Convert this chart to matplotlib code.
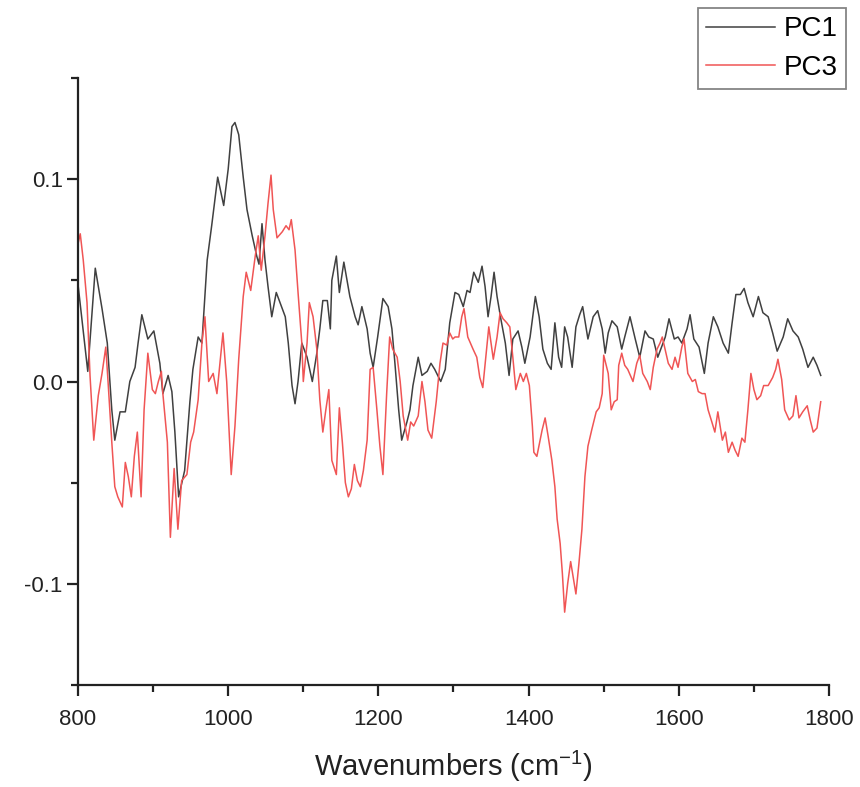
import numpy as np
import matplotlib.pyplot as plt
from matplotlib.ticker import MultipleLocator, FormatStrFormatter

plt.rcParams['font.family'] = ['Liberation Sans', 'DejaVu Sans']

# PC1 loading (black)
pc1_x = [800, 813, 823, 832, 839, 845, 849, 856, 863, 869, 876, 880, 885, 893, 901, 909, 913, 920,
         925, 929, 934, 942, 949, 953, 960, 965, 972, 978, 986, 994, 1000, 1005, 1009, 1014, 1020,
         1025, 1032, 1038, 1041, 1045, 1049, 1053, 1058, 1064, 1069, 1076, 1080, 1085, 1089, 1093,
         1098, 1105, 1112, 1118, 1122, 1126, 1132, 1136, 1138, 1144, 1148, 1154, 1162, 1169, 1173,
         1178, 1185, 1189, 1193, 1199, 1206, 1213, 1218, 1222, 1227, 1231, 1238, 1242, 1246, 1253,
         1258, 1265, 1270, 1275, 1283, 1289, 1295, 1302, 1307, 1313, 1318, 1322, 1327, 1333, 1338,
         1342, 1346, 1350, 1354, 1358, 1363, 1369, 1374, 1379, 1386, 1391, 1395, 1402, 1409, 1414,
         1419, 1425, 1430, 1435, 1440, 1444, 1448, 1452, 1458, 1463, 1468, 1472, 1479, 1486, 1492,
         1498, 1502, 1506, 1511, 1518, 1524, 1528, 1535, 1542, 1548, 1555, 1560, 1566, 1572, 1576,
         1582, 1587, 1594, 1599, 1604, 1611, 1615, 1620, 1627, 1634, 1639, 1646, 1652, 1659, 1666,
         1671, 1676, 1682, 1687, 1692, 1699, 1706, 1712, 1719, 1725, 1731, 1739, 1745, 1752, 1759,
         1765, 1772, 1779, 1784, 1789]
pc1_y = [0.048, 0.005, 0.056, 0.036, 0.019, -0.014, -0.029, -0.015, -0.015, 0.000, 0.007, 0.019,
         0.033, 0.021, 0.025, 0.009, -0.006, 0.003, -0.005, -0.025, -0.057, -0.044, -0.010, 0.006,
         0.022, 0.019, 0.060, 0.077, 0.101, 0.087, 0.105, 0.126, 0.128, 0.122, 0.101, 0.085, 0.072,
         0.062, 0.058, 0.078, 0.060, 0.047, 0.032, 0.044, 0.039, 0.032, 0.019, -0.002, -0.011, 0.000,
         0.019, 0.012, 0.000, 0.014, 0.026, 0.040, 0.040, 0.026, 0.050, 0.062, 0.044, 0.059, 0.042,
         0.032, 0.028, 0.037, 0.026, 0.014, 0.007, 0.022, 0.041, 0.037, 0.026, 0.009, -0.014, -0.029,
         -0.020, -0.014, -0.002, 0.012, 0.003, 0.005, 0.009, 0.006, 0.000, 0.006, 0.029, 0.044, 0.043,
         0.037, 0.045, 0.044, 0.054, 0.049, 0.057, 0.047, 0.032, 0.042, 0.054, 0.042, 0.031, 0.019,
         0.003, 0.021, 0.025, 0.017, 0.009, 0.022, 0.042, 0.032, 0.016, 0.009, 0.006, 0.029, 0.012,
         0.007, 0.027, 0.022, 0.007, 0.027, 0.033, 0.037, 0.021, 0.032, 0.035, 0.026, 0.014, 0.024,
         0.030, 0.027, 0.016, 0.022, 0.032, 0.021, 0.012, 0.025, 0.022, 0.021, 0.012, 0.016, 0.022,
         0.031, 0.021, 0.022, 0.019, 0.026, 0.033, 0.021, 0.017, 0.004, 0.019, 0.032, 0.027, 0.019,
         0.014, 0.029, 0.043, 0.043, 0.046, 0.039, 0.032, 0.042, 0.034, 0.032, 0.024, 0.015, 0.022,
         0.031, 0.025, 0.022, 0.016, 0.007, 0.012, 0.008, 0.003]

# PC3 loading (red)
pc3_x = [800, 803, 807, 812, 816, 821, 827, 832, 837, 840, 845, 849, 853, 859, 863, 867, 871, 875,
         879, 884, 888, 893, 899, 903, 907, 911, 913, 919, 923, 928, 933, 938, 945, 950, 954, 960,
         965, 969, 974, 980, 985, 993, 998, 1004, 1009, 1014, 1020, 1024, 1030, 1036, 1040, 1044,
         1049, 1053, 1057, 1060, 1065, 1072, 1077, 1081, 1084, 1089, 1093, 1098, 1100, 1105, 1108,
         1113, 1118, 1122, 1126, 1130, 1134, 1138, 1144, 1148, 1152, 1156, 1160, 1164, 1168, 1172,
         1176, 1180, 1185, 1189, 1193, 1198, 1202, 1206, 1211, 1215, 1219, 1225, 1229, 1233, 1239,
         1243, 1247, 1253, 1258, 1262, 1266, 1271, 1277, 1282, 1286, 1291, 1295, 1299, 1302, 1307,
         1311, 1314, 1319, 1326, 1331, 1335, 1339, 1343, 1347, 1353, 1358, 1362, 1366, 1371, 1375,
         1379, 1383, 1389, 1393, 1397, 1401, 1405, 1407, 1411, 1418, 1422, 1426, 1431, 1435, 1438,
         1442, 1445, 1448, 1452, 1456, 1463, 1467, 1471, 1475, 1479, 1484, 1490, 1494, 1498, 1500,
         1506, 1510, 1514, 1518, 1520, 1524, 1528, 1532, 1539, 1544, 1548, 1552, 1558, 1562, 1566,
         1571, 1575, 1578, 1583, 1586, 1591, 1595, 1599, 1604, 1607, 1612, 1618, 1622, 1626, 1631,
         1635, 1639, 1644, 1648, 1652, 1658, 1662, 1666, 1671, 1675, 1679, 1684, 1688, 1692, 1696,
         1700, 1704, 1709, 1713, 1719, 1725, 1729, 1732, 1737, 1741, 1747, 1752, 1756, 1760, 1765,
         1771, 1775, 1779, 1784, 1789]
pc3_y = [0.068, 0.073, 0.060, 0.039, 0.003, -0.029, -0.007, 0.004, 0.017, 0.000, -0.030, -0.052,
         -0.057, -0.062, -0.040, -0.047, -0.057, -0.037, -0.025, -0.057, -0.014, 0.014, -0.004,
         -0.006, 0.000, 0.005, -0.006, -0.030, -0.077, -0.043, -0.073, -0.049, -0.046, -0.030,
         -0.025, -0.009, 0.019, 0.032, 0.000, 0.004, -0.006, 0.024, 0.000, -0.046, -0.022, 0.011,
         0.042, 0.054, 0.045, 0.062, 0.072, 0.055, 0.072, 0.088, 0.102, 0.085, 0.071, 0.074, 0.077,
         0.075, 0.080, 0.065, 0.044, 0.019, 0.000, 0.019, 0.039, 0.032, 0.016, -0.009, -0.025, -0.014,
         -0.004, -0.039, -0.046, -0.013, -0.030, -0.050, -0.057, -0.053, -0.041, -0.049, -0.052,
         -0.044, -0.029, 0.006, 0.007, -0.014, -0.032, -0.046, -0.006, 0.022, 0.016, 0.012, 0.000,
         -0.017, -0.029, -0.020, -0.022, -0.017, 0.000, -0.010, -0.024, -0.028, -0.010, 0.009, 0.019,
         0.018, 0.024, 0.021, 0.022, 0.022, 0.032, 0.036, 0.022, 0.016, 0.012, 0.002, -0.003, 0.012,
         0.027, 0.011, 0.022, 0.034, 0.031, 0.029, 0.027, 0.012, -0.004, 0.004, 0.000, 0.004, -0.002,
         -0.022, -0.035, -0.037, -0.024, -0.018, -0.027, -0.039, -0.052, -0.068, -0.080, -0.095,
         -0.114, -0.100, -0.089, -0.105, -0.090, -0.073, -0.047, -0.032, -0.024, -0.015, -0.013,
         -0.006, 0.013, 0.004, -0.014, -0.010, -0.009, 0.008, 0.014, 0.008, 0.006, 0.000, 0.009,
         0.013, 0.004, 0.000, -0.004, 0.007, 0.016, 0.019, 0.022, 0.014, 0.009, 0.006, 0.012, 0.007,
         0.017, 0.021, 0.004, 0.000, 0.001, -0.005, -0.006, -0.006, -0.014, -0.020, -0.025, -0.015,
         -0.029, -0.025, -0.035, -0.030, -0.034, -0.037, -0.028, -0.030, -0.014, 0.004, -0.004,
         -0.009, -0.007, -0.002, -0.002, 0.002, 0.006, 0.011, 0.001, -0.014, -0.019, -0.017, -0.007,
         -0.018, -0.015, -0.012, -0.019, -0.025, -0.023, -0.010]

fig = plt.figure(figsize=(8.6, 7.87), dpi=100)
ax = fig.add_axes([78/860, 1-685/787, (829-78)/860, (685-78)/787])

l1, = ax.plot(pc1_x, pc1_y, color='#404040', lw=1.1, label='PC1')
l3, = ax.plot(pc3_x, pc3_y, color='#f05555', lw=1.1, label='PC3')

ax.set_xlim(800, 1800)
ax.set_ylim(-0.15, 0.15)
ax.xaxis.set_major_locator(MultipleLocator(200))
ax.xaxis.set_minor_locator(MultipleLocator(100))
ax.yaxis.set_major_locator(MultipleLocator(0.1))
ax.yaxis.set_minor_locator(MultipleLocator(0.05))
ax.yaxis.set_major_formatter(FormatStrFormatter('%.1f'))
ax.spines['top'].set_visible(False)
ax.spines['right'].set_visible(False)
for s in ['left', 'bottom']:
    ax.spines[s].set_linewidth(1.6)
    ax.spines[s].set_color('#222222')
ax.tick_params(which='major', direction='out', length=8, width=1.6, labelsize=16,
               color='#222222', labelcolor='#222222')
ax.tick_params(which='minor', direction='out', length=5, width=1.6, color='#222222')
ax.tick_params(axis='x', pad=9)
ax.tick_params(axis='y', pad=3)

ax.set_xlabel('Wavenumbers (cm$^{\\mathregular{-1}}$)', fontsize=21, labelpad=14, color='#222222')

leg = fig.legend(handles=[l1, l3], loc='upper right', bbox_to_anchor=(846/860, 1-8/787),
                 fontsize=20, frameon=True, fancybox=False, handlelength=2.5,
                 labelspacing=0.45, borderpad=0.3, handletextpad=0.3, borderaxespad=0)
leg.get_frame().set_edgecolor('#666666')
leg.get_frame().set_linewidth(1.3)

fig.savefig('out.png', dpi=100)
